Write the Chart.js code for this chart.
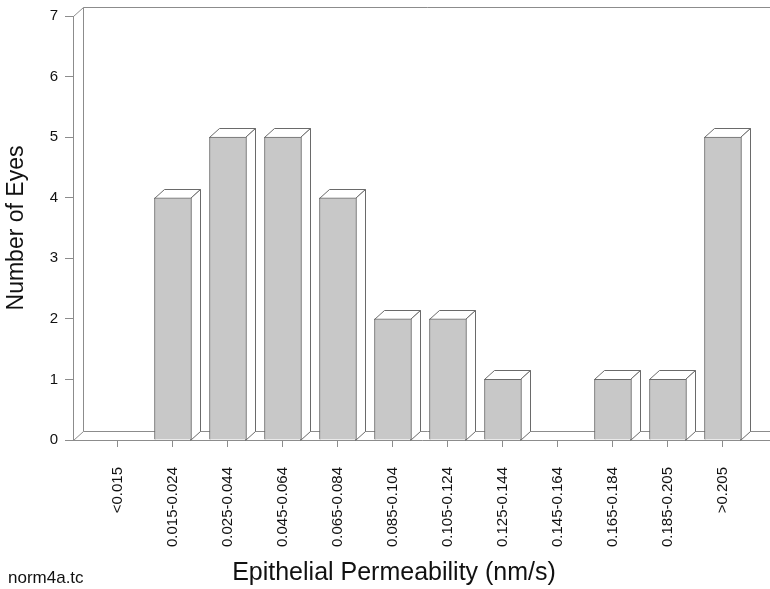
<!DOCTYPE html>
<html>
<head>
<meta charset="utf-8">
<script src="https://cdn.jsdelivr.net/npm/chart.js@4.4.1/dist/chart.umd.min.js"></script>
<style>
    body { margin: 0; background: #fff; }
    #wrap { width: 770px; height: 589px; }
</style>
</head>
<body>
<div id="wrap"><canvas id="permChart" width="770" height="589"></canvas></div>
<script>
// Histogram data
const bins = ['<0.015', '0.015-0.024', '0.025-0.044', '0.045-0.064', '0.065-0.084', '0.085-0.104',
              '0.105-0.124', '0.125-0.144', '0.145-0.164', '0.165-0.184', '0.185-0.205', '>0.205'];
const eyeCounts = [0, 4, 5, 5, 4, 2, 2, 1, 0, 1, 1, 5];
const yTicks = [0, 1, 2, 3, 4, 5, 6, 7];

// 3D look: offset of the back plane
const depthX = 10;
const depthY = -9;
const lineGrey = '#8c8c8c';
const barEdge = '#6a6a6a';

const threeD = {
    id: 'threeD',
    beforeDatasetsDraw(chart) {
        const ctx = chart.ctx;
        const a = chart.chartArea;
        const L = Math.round(a.left) + 0.5, R = a.right, T = Math.round(a.top) + 0.5, B = Math.round(a.bottom) + 0.5;
        ctx.save();
        ctx.strokeStyle = lineGrey;
        ctx.lineWidth = 1;
        ctx.beginPath();
        // back wall and floor
        ctx.moveTo(L, T); ctx.lineTo(L + depthX, T + depthY); ctx.lineTo(R + depthX, T + depthY);
        ctx.moveTo(L + depthX, T + depthY); ctx.lineTo(L + depthX, B + depthY); ctx.lineTo(R + depthX, B + depthY);
        ctx.moveTo(L, B); ctx.lineTo(L + depthX, B + depthY);
        ctx.moveTo(L, B); ctx.lineTo(R + depthX, B);
        ctx.stroke();

        // top and side faces of the bars
        ctx.strokeStyle = barEdge;
        chart.getDatasetMeta(0).data.forEach(function(bar, i) {
            if (!eyeCounts[i]) return;
            const p = bar.getProps(['x', 'y', 'base', 'width'], true);
            const l = Math.round(p.x - p.width / 2) + 0.5;
            const r = Math.round(p.x + p.width / 2) - 0.5;
            const y = Math.round(p.y) + 0.5;
            const b = Math.round(p.base) + 0.5;
            ctx.fillStyle = '#ffffff';
            ctx.beginPath();
            ctx.moveTo(l, y); ctx.lineTo(l + depthX, y + depthY); ctx.lineTo(r + depthX, y + depthY); ctx.lineTo(r, y);
            ctx.closePath();
            ctx.fill(); ctx.stroke();
            ctx.beginPath();
            ctx.moveTo(r, y); ctx.lineTo(r + depthX, y + depthY); ctx.lineTo(r + depthX, b + depthY); ctx.lineTo(r, b);
            ctx.closePath();
            ctx.fill(); ctx.stroke();
        });
        ctx.restore();
    },
    afterDraw(chart) {
        const ctx = chart.ctx;
        ctx.save();
        ctx.fillStyle = '#111';
        ctx.font = '17px "Liberation Sans", Arial, sans-serif';
        ctx.textBaseline = 'middle';
        ctx.fillText('norm4a.tc', 8, 578);
        ctx.restore();
    }
};

Chart.defaults.font.family = '"Liberation Sans", Arial, sans-serif';
Chart.defaults.color = '#111';

const ctx = document.getElementById('permChart').getContext('2d');
const permChart = new Chart(ctx, {
    type: 'bar',
    data: {
        datasets: [{
            data: eyeCounts.map((v, i) => ({ x: i, y: v })),
            backgroundColor: '#c8c8c8',
            borderColor: barEdge,
            borderWidth: 1,
            barThickness: 37
        }]
    },
    options: {
        responsive: false,
        animation: false,
        layout: { padding: { top: 16, left: 18, right: 0, bottom: 1 } },
        plugins: {
            legend: { display: false },
            tooltip: { enabled: false },
            title: {
                display: true,
                position: 'bottom',
                text: 'Epithelial Permeability (nm/s)',
                font: { size: 25, weight: 'normal' },
                color: '#111',
                padding: { top: 0, bottom: 0 }
            }
        },
        scales: {
            x: {
                type: 'linear',
                offset: false,
                min: -0.818,
                max: 11.855,
                afterBuildTicks: function(scale) {
                    scale.ticks = bins.map((b, i) => ({ value: i }));
                },
                afterFit: function(scale) { scale.height = 118; },
                grid: { offset: false, drawOnChartArea: false, tickLength: 7, color: lineGrey },
                border: { display: false },
                ticks: {
                    autoSkip: false,
                    minRotation: 90,
                    maxRotation: 90,
                    padding: 20,
                    font: { size: 15 },
                    callback: function(value) { return bins[value]; }
                }
            },
            y: {
                min: 0,
                max: 7,
                afterBuildTicks: function(scale) {
                    scale.ticks = yTicks.map(v => ({ value: v }));
                },
                afterFit: function(scale) { scale.width = 55; },
                grid: { drawOnChartArea: false, tickLength: 8, color: lineGrey },
                border: { display: true, color: lineGrey },
                ticks: { padding: 7, font: { size: 15 } },
                title: {
                    display: true,
                    text: 'Number of Eyes',
                    font: { size: 23 },
                    color: '#111',
                    padding: { top: -15, bottom: 0 }
                }
            }
        }
    },
    plugins: [threeD]
});
</script>
</body>
</html>
